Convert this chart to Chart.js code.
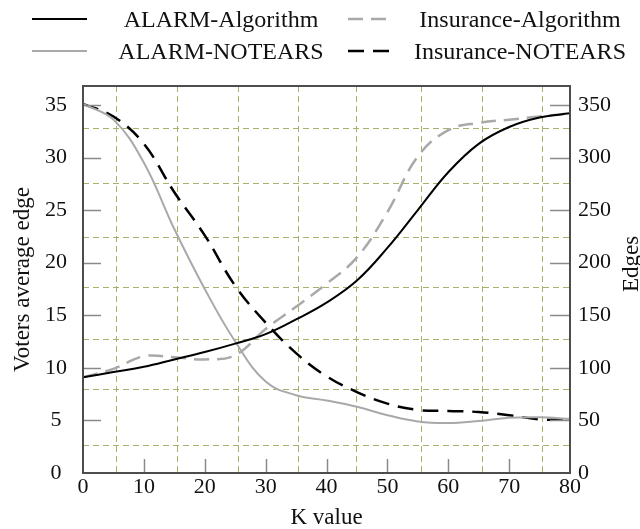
<!DOCTYPE html>
<html>
<head>
<meta charset="utf-8">
<script src="https://cdn.jsdelivr.net/npm/chart.js@4.4.1/dist/chart.umd.min.js"></script>
<style>
  html, body { margin: 0; padding: 0; background: #fff; }
</style>
</head>
<body>
<canvas id="edgeChart" width="640" height="529"></canvas>
<script>
// values, one point every 5 on K
const kValues = [0, 5, 10, 15, 20, 25, 30, 35, 40, 45, 50, 55, 60, 65, 70, 75, 80];
// left axis: voters average edge
const alarmAlgorithm = [9.1, 9.6, 10.1, 10.8, 11.5, 12.3, 13.2, 14.6, 16.2, 18.3, 21.4, 25.0, 28.6, 31.3, 32.9, 33.8, 34.2];
const alarmNotears   = [35.1, 33.6, 29.5, 23.2, 17.5, 12.5, 8.7, 7.4, 6.9, 6.3, 5.5, 4.9, 4.75, 4.95, 5.25, 5.3, 5.15];
// right axis: edges
const insuranceAlgorithm = [91, 99, 111, 110, 108, 112, 137, 158, 180, 205, 248, 301, 326, 333, 336, 339, 342];
const insuranceNotears   = [351, 339, 313, 267, 226, 178, 143, 114, 92, 77, 66, 60, 59, 58, 55, 51, 51];

const kTicks = [0, 10, 20, 30, 40, 50, 60, 70, 80];
const voterTicks = [0, 5, 10, 15, 20, 25, 30, 35];
const edgeTicks = [0, 50, 100, 150, 200, 250, 300, 350];
// dashed guide lines of the original plot
const gridK = [5.5, 15.4, 25.4, 35.3, 44.8, 55.5, 65.5, 75.4];
const gridV = [2.66, 8.0, 12.7, 17.7, 22.4, 27.6, 32.8];

const FONT = '"Liberation Serif", "Times New Roman", serif';
const GRID_COLOR = '#a9b06c';
const AXIS_COLOR = '#4d4d4d';
const TICK_COLOR = '#8a8a8a';

Chart.defaults.font.family = FONT;
Chart.defaults.color = '#111';

const toPoints = (vals) => vals.map((v, i) => ({x: kValues[i], y: v}));
const fixTicks = (list) => (scale) => { scale.ticks = list.map(v => ({value: v})); };

const framePlugin = {
    id: 'frame',
    beforeDatasetsDraw(chart) {
        const {ctx, chartArea: a, scales} = chart;
        ctx.save();
        ctx.strokeStyle = GRID_COLOR;
        ctx.lineWidth = 1;
        ctx.setLineDash([6, 4]);
        gridK.forEach(k => {
            const px = Math.round(scales.x.getPixelForValue(k)) + 0.5;
            ctx.beginPath(); ctx.moveTo(px, a.top); ctx.lineTo(px, a.bottom); ctx.stroke();
        });
        gridV.forEach(v => {
            const py = Math.round(scales.y.getPixelForValue(v)) + 0.5;
            ctx.beginPath(); ctx.moveTo(a.left, py); ctx.lineTo(a.right, py); ctx.stroke();
        });
        ctx.restore();
    },
    afterDraw(chart) {
        const {ctx, chartArea: a, scales} = chart;
        ctx.save();
        // inward tick marks
        ctx.strokeStyle = TICK_COLOR;
        ctx.lineWidth = 1.5;
        scales.x.ticks.forEach(t => {
            if (t.value <= scales.x.min || t.value >= scales.x.max) return;
            const px = Math.round(scales.x.getPixelForValue(t.value)) + 0.5;
            ctx.beginPath(); ctx.moveTo(px, a.bottom); ctx.lineTo(px, a.bottom - 14); ctx.stroke();
        });
        scales.y.ticks.forEach(t => {
            if (t.value <= 0) return;
            const py = Math.round(scales.y.getPixelForValue(t.value)) + 0.5;
            ctx.beginPath(); ctx.moveTo(a.left, py); ctx.lineTo(a.left + 18, py); ctx.stroke();
        });
        scales.y1.ticks.forEach(t => {
            if (t.value <= 0) return;
            const py = Math.round(scales.y1.getPixelForValue(t.value)) + 0.5;
            ctx.beginPath(); ctx.moveTo(a.right, py); ctx.lineTo(a.right - 20, py); ctx.stroke();
        });

        // plot box
        ctx.strokeStyle = AXIS_COLOR;
        ctx.lineWidth = 2;
        ctx.strokeRect(a.left, a.top, a.right - a.left, a.bottom - a.top);

        // right axis title, reading upwards like the left one
        ctx.fillStyle = '#111';
        ctx.font = '23px ' + FONT;
        ctx.textAlign = 'center';
        ctx.textBaseline = 'middle';
        ctx.translate(632, 264);
        ctx.rotate(-Math.PI / 2);
        ctx.fillText('Edges', 0, 0);
        ctx.restore();

        // legend: two columns, two rows
        const cols = [{lineX: 32, lineW: 55, textX: 221}, {lineX: 348, lineW: 44, textX: 520}];
        const rows = [21, 53];
        ctx.save();
        chart.data.datasets.forEach((ds, i) => {
            const col = cols[Math.floor(i / 2)];
            const ty = rows[i % 2];
            ctx.strokeStyle = ds.borderColor;
            ctx.lineWidth = ds.borderWidth;
            ctx.setLineDash(ds.borderDash || []);
            ctx.beginPath();
            ctx.moveTo(col.lineX, ty - 2);
            ctx.lineTo(col.lineX + col.lineW, ty - 2);
            ctx.stroke();
            ctx.setLineDash([]);
            ctx.fillStyle = '#111';
            ctx.font = '24px ' + FONT;
            ctx.textAlign = 'center';
            ctx.textBaseline = 'middle';
            ctx.fillText(ds.label, col.textX, ty);
        });
        ctx.restore();
    }
};

const ctx = document.getElementById('edgeChart').getContext('2d');
new Chart(ctx, {
    type: 'line',
    data: {
        datasets: [
            {label: 'ALARM-Algorithm', data: toPoints(alarmAlgorithm), yAxisID: 'y',
             borderColor: '#000', borderWidth: 2},
            {label: 'ALARM-NOTEARS', data: toPoints(alarmNotears), yAxisID: 'y',
             borderColor: '#a9a9a9', borderWidth: 2},
            {label: 'Insurance-Algorithm', data: toPoints(insuranceAlgorithm), yAxisID: 'y1',
             borderColor: '#a9a9a9', borderWidth: 2.5, borderDash: [15, 8]},
            {label: 'Insurance-NOTEARS', data: toPoints(insuranceNotears), yAxisID: 'y1',
             borderColor: '#000', borderWidth: 2.5, borderDash: [16, 9]}
        ]
    },
    options: {
        responsive: false,
        animation: false,
        layout: {padding: {top: 86, left: 0, right: 0, bottom: 0}},
        elements: {
            point: {radius: 0},
            line: {tension: 0.4, fill: false}
        },
        plugins: {
            legend: {display: false},
            tooltip: {enabled: false}
        },
        scales: {
            x: {
                type: 'linear', position: 'bottom', min: 0, max: 80,
                afterBuildTicks: fixTicks(kTicks),
                afterFit: (s) => { s.height = 56; },
                grid: {display: false, drawTicks: false},
                border: {display: false},
                ticks: {font: {size: 22}, padding: 1, maxRotation: 0, color: '#111'},
                title: {display: true, text: 'K value', font: {size: 23, lineHeight: 1}, padding: {top: 0, bottom: 0}, color: '#111'}
            },
            y: {
                type: 'linear', position: 'left', min: 0, max: 36.8,
                afterBuildTicks: fixTicks(voterTicks),
                afterFit: (s) => { s.width = 83; },
                grid: {display: false, drawTicks: false},
                border: {display: false},
                ticks: {font: {size: 22}, padding: 16, crossAlign: 'center', color: '#111'},
                title: {display: true, text: 'Voters average edge', font: {size: 23, lineHeight: 1}, padding: {top: 11, bottom: 0}, color: '#111'}
            },
            y1: {
                type: 'linear', position: 'right', min: 0, max: 368,
                afterBuildTicks: fixTicks(edgeTicks),
                afterFit: (s) => { s.width = 70; },
                grid: {display: false, drawTicks: false},
                border: {display: false},
                ticks: {font: {size: 22}, padding: 8, crossAlign: 'near', color: '#111'}
            }
        }
    },
    plugins: [framePlugin]
});
</script>
</body>
</html>
